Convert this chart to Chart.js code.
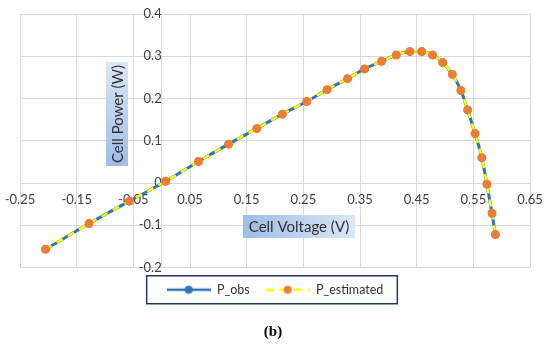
<!DOCTYPE html>
<html><head><meta charset="utf-8">
<script src="https://cdn.jsdelivr.net/npm/chart.js@4.4.0/dist/chart.umd.min.js"></script>
<style>html,body{margin:0;padding:0;background:#fff;}#wrap{width:550px;height:345px;}</style>
</head><body><div id="wrap"><canvas id="c" width="550" height="345"></canvas></div>
<script>
const voltage = [-0.205,-0.128,-0.057,0.007,0.065,0.118,0.168,0.213,0.256,0.292,0.328,0.358,0.388,0.414,0.438,0.459,0.478,0.496,0.513,0.528,0.540,0.553,0.565,0.574,0.583,0.589];
const pObs = [-0.157,-0.096,-0.043,0.004,0.051,0.092,0.129,0.163,0.193,0.221,0.247,0.270,0.288,0.303,0.311,0.311,0.303,0.285,0.257,0.219,0.173,0.117,0.060,-0.003,-0.072,-0.122];
const pEst = [-0.157,-0.096,-0.043,0.004,0.051,0.092,0.129,0.163,0.193,0.221,0.247,0.270,0.288,0.303,0.311,0.311,0.303,0.285,0.257,0.219,0.173,0.117,0.060,-0.003,-0.072,-0.122];
const xTicks = [-0.25,-0.15,-0.05,0.05,0.15,0.25,0.35,0.45,0.55,0.65];
const yTicks = [-0.2,-0.1,0,0.1,0.2,0.3,0.4];
const seriesNames = ['P_obs','P_estimated'];
const xTitle = 'Cell Voltage (V)';
const yTitle = 'Cell Power (W)';
const caption = '(b)';

const BLUE = '#2E75B6', YELLOW = '#FFFF00', ORANGE = '#ED7D31';
const FONT = 'Lato, "Open Sans", sans-serif';

function symbol(lineColor, dash, dotColor) {
  const c = document.createElement('canvas');
  c.width = 44; c.height = 12;
  const g = c.getContext('2d');
  g.strokeStyle = lineColor; g.lineWidth = 2.5; g.setLineDash(dash);
  g.beginPath(); g.moveTo(0, 6); g.lineTo(44, 6); g.stroke();
  g.setLineDash([]);
  g.fillStyle = dotColor; g.beginPath(); g.arc(22, 6, 4, 0, Math.PI * 2); g.fill();
  return c;
}
const symbols = [symbol(BLUE, [], BLUE), symbol(YELLOW, [8, 6], ORANGE)];

const fmt = v => (Math.abs(v) < 1e-9 ? '0' : String(+v.toFixed(2)));

const decor = {
  id: 'decor',
  beforeDatasetsDraw(chart) {
    const ctx = chart.ctx;
    ctx.save();
    ctx.translate(117, 114);
    ctx.rotate(-Math.PI / 2);
    let gr = ctx.createLinearGradient(-52, 0, 52, 0);
    gr.addColorStop(0, '#9dbde6'); gr.addColorStop(1, '#dbe7f5');
    ctx.fillStyle = gr;
    ctx.fillRect(-52, -11, 104, 22);
    ctx.fillStyle = '#333';
    ctx.font = '15px ' + FONT;
    ctx.textAlign = 'center'; ctx.textBaseline = 'middle';
    ctx.fillText(yTitle, 0, 1);
    ctx.restore();
    ctx.save();
    gr = ctx.createLinearGradient(243, 0, 355, 0);
    gr.addColorStop(0, '#9dbde6'); gr.addColorStop(1, '#dbe7f5');
    ctx.fillStyle = gr;
    ctx.fillRect(243, 215, 112, 23);
    ctx.fillStyle = '#333';
    ctx.font = '15px ' + FONT;
    ctx.textAlign = 'center'; ctx.textBaseline = 'middle';
    ctx.fillText(xTitle, 299, 227);
    ctx.restore();
  },
  afterDraw(chart) {
    const ctx = chart.ctx;
    const hb = chart.legend.legendHitBoxes;
    if (hb && hb.length) {
      const first = hb[0], last = hb[hb.length - 1];
      const l = first.left - 20, r = last.left + last.width + 14;
      const t = first.top + first.height / 2 - 14;
      ctx.save();
      ctx.strokeStyle = '#1F3864'; ctx.lineWidth = 1.5;
      ctx.strokeRect(l, t, r - l, 28);
      ctx.restore();
    }
    ctx.save();
    ctx.fillStyle = '#000';
    ctx.font = 'bold 15px "Liberation Serif", serif';
    ctx.textAlign = 'center'; ctx.textBaseline = 'middle';
    ctx.fillText(caption, 273, 332);
    ctx.restore();
  }
};

new Chart(document.getElementById('c'), {
  type: 'scatter',
  data: {
    datasets: [
      {
        label: seriesNames[0],
        data: voltage.map((v, i) => ({x: v, y: pObs[i]})),
        showLine: true, borderColor: BLUE, backgroundColor: BLUE, borderWidth: 3,
        pointRadius: 4, pointBackgroundColor: BLUE, pointBorderWidth: 0,
        cubicInterpolationMode: 'monotone', order: 2
      },
      {
        label: seriesNames[1],
        data: voltage.map((v, i) => ({x: v, y: pEst[i]})),
        showLine: true, borderColor: YELLOW, backgroundColor: ORANGE, borderWidth: 2.5,
        borderDash: [7, 6],
        pointRadius: 4.5, pointBackgroundColor: ORANGE, pointBorderColor: ORANGE, pointBorderWidth: 0,
        cubicInterpolationMode: 'monotone', order: 1
      }
    ]
  },
  options: {
    responsive: false, animation: false, devicePixelRatio: 1,
    layout: {padding: {left: 20, right: 20, top: 14, bottom: 39}},
    plugins: {
      tooltip: {enabled: false},
      legend: {
        position: 'bottom',
        labels: {
          usePointStyle: true, pointStyleWidth: 44, padding: 16,
          color: '#333', font: {family: FONT, size: 12.5},
          generateLabels(chart) {
            const items = Chart.defaults.plugins.legend.labels.generateLabels(chart);
            items.forEach(it => { it.pointStyle = symbols[it.datasetIndex]; });
            return items;
          },
          sort: (a, b) => a.datasetIndex - b.datasetIndex
        }
      }
    },
    scales: {
      x: {
        type: 'linear', position: {y: 0}, min: -0.25, max: 0.65,
        afterBuildTicks: s => { s.ticks = xTicks.map(v => ({value: v})); },
        grid: {color: '#d9d9d9', drawTicks: true, tickLength: 8, tickColor: 'rgba(0,0,0,0)'},
        border: {color: '#d9d9d9'},
        ticks: {padding: 1, color: '#404040', autoSkip: false, maxRotation: 0, font: {family: FONT, size: 13}, callback: v => fmt(v)}
      },
      y: {
        type: 'linear', position: {x: 0}, min: -0.2, max: 0.4,
        afterBuildTicks: s => { s.ticks = yTicks.map(v => ({value: v})); },
        grid: {color: '#d9d9d9', drawTicks: true, tickLength: 12, tickColor: 'rgba(0,0,0,0)'},
        border: {color: '#d9d9d9'},
        ticks: {padding: 1, color: '#404040', autoSkip: false, font: {family: FONT, size: 13}, callback: v => fmt(v)}
      }
    }
  },
  plugins: [decor]
});
</script>
</body></html>
